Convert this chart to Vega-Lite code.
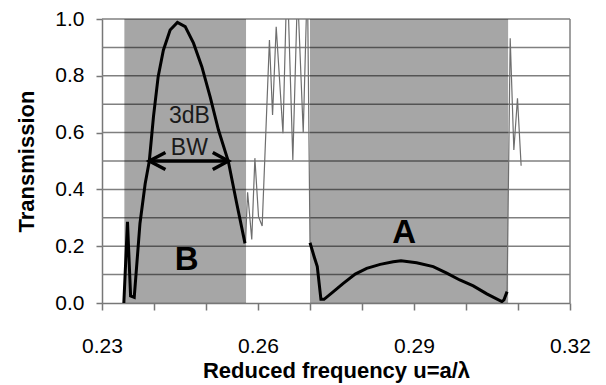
{
  "$schema": "https://vega.github.io/schema/vega-lite/v6.json",
  "width": 468,
  "height": 284,
  "autosize": {"type": "none"},
  "padding": {"left": 102, "top": 19, "right": 36, "bottom": 82},
  "background": "white",
  "config": {
    "view": {"stroke": null},
    "font": "Liberation Sans"
  },
  "datasets": {
    "gridLines": [
      {"g": "h1", "u": 0.23, "T": 0.1}, {"g": "h1", "u": 0.32, "T": 0.1},
      {"g": "h2", "u": 0.23, "T": 0.2}, {"g": "h2", "u": 0.32, "T": 0.2},
      {"g": "h3", "u": 0.23, "T": 0.3}, {"g": "h3", "u": 0.32, "T": 0.3},
      {"g": "h4", "u": 0.23, "T": 0.4}, {"g": "h4", "u": 0.32, "T": 0.4},
      {"g": "h5", "u": 0.23, "T": 0.5}, {"g": "h5", "u": 0.32, "T": 0.5},
      {"g": "h6", "u": 0.23, "T": 0.6}, {"g": "h6", "u": 0.32, "T": 0.6},
      {"g": "h7", "u": 0.23, "T": 0.7}, {"g": "h7", "u": 0.32, "T": 0.7},
      {"g": "h8", "u": 0.23, "T": 0.8}, {"g": "h8", "u": 0.32, "T": 0.8},
      {"g": "h9", "u": 0.23, "T": 0.9}, {"g": "h9", "u": 0.32, "T": 0.9},
      {"g": "h10", "u": 0.23, "T": 1.0}, {"g": "h10", "u": 0.32, "T": 1.0},
      {"g": "v32", "u": 0.32, "T": 0.0}, {"g": "v32", "u": 0.32, "T": 1.0}
    ],
    "bands": [
      {"band": "B", "u1": 0.2343, "u2": 0.2577, "T1": 0, "T2": 1},
      {"band": "A", "u1": 0.2700, "u2": 0.3081, "T1": 0, "T2": 1}
    ],
    "curves": [
      {"series": "B", "kind": "thick", "u": 0.2342, "T": 0.0},
      {"series": "B", "kind": "thick", "u": 0.2349, "T": 0.286},
      {"series": "B", "kind": "thick", "u": 0.2355, "T": 0.025},
      {"series": "B", "kind": "thick", "u": 0.2362, "T": 0.02},
      {"series": "B", "kind": "thick", "u": 0.2373, "T": 0.28},
      {"series": "B", "kind": "thick", "u": 0.2383, "T": 0.42},
      {"series": "B", "kind": "thick", "u": 0.2391, "T": 0.50},
      {"series": "B", "kind": "thick", "u": 0.2399, "T": 0.656},
      {"series": "B", "kind": "thick", "u": 0.2408, "T": 0.797},
      {"series": "B", "kind": "thick", "u": 0.2418, "T": 0.89},
      {"series": "B", "kind": "thick", "u": 0.2431, "T": 0.961},
      {"series": "B", "kind": "thick", "u": 0.2445, "T": 0.988},
      {"series": "B", "kind": "thick", "u": 0.2460, "T": 0.973},
      {"series": "B", "kind": "thick", "u": 0.2476, "T": 0.915},
      {"series": "B", "kind": "thick", "u": 0.2492, "T": 0.832},
      {"series": "B", "kind": "thick", "u": 0.2508, "T": 0.726},
      {"series": "B", "kind": "thick", "u": 0.2524, "T": 0.609},
      {"series": "B", "kind": "thick", "u": 0.2543, "T": 0.498},
      {"series": "B", "kind": "thick", "u": 0.2559, "T": 0.351},
      {"series": "B", "kind": "thick", "u": 0.2575, "T": 0.21},
      {"series": "mid", "kind": "thin", "u": 0.2576, "T": 0.216},
      {"series": "mid", "kind": "thin", "u": 0.2580, "T": 0.39},
      {"series": "mid", "kind": "thin", "u": 0.2588, "T": 0.224},
      {"series": "mid", "kind": "thin", "u": 0.2594, "T": 0.51},
      {"series": "mid", "kind": "thin", "u": 0.2601, "T": 0.304},
      {"series": "mid", "kind": "thin", "u": 0.2608, "T": 0.271},
      {"series": "mid", "kind": "thin", "u": 0.2622, "T": 0.926},
      {"series": "mid", "kind": "thin", "u": 0.2628, "T": 0.662},
      {"series": "mid", "kind": "thin", "u": 0.2635, "T": 0.973},
      {"series": "mid", "kind": "thin", "u": 0.2648, "T": 0.598},
      {"series": "mid", "kind": "thin", "u": 0.2656, "T": 1.17},
      {"series": "mid", "kind": "thin", "u": 0.2667, "T": 0.504},
      {"series": "mid", "kind": "thin", "u": 0.2676, "T": 1.1},
      {"series": "mid", "kind": "thin", "u": 0.2687, "T": 0.60},
      {"series": "mid", "kind": "thin", "u": 0.2695, "T": 1.15},
      {"series": "mid", "kind": "thin", "u": 0.2700, "T": 0.212},
      {"series": "A", "kind": "thick", "u": 0.2700, "T": 0.212},
      {"series": "A", "kind": "thick", "u": 0.2708, "T": 0.163},
      {"series": "A", "kind": "thick", "u": 0.2714, "T": 0.128},
      {"series": "A", "kind": "thick", "u": 0.2721, "T": 0.013},
      {"series": "A", "kind": "thick", "u": 0.2727, "T": 0.013},
      {"series": "A", "kind": "thick", "u": 0.2745, "T": 0.04},
      {"series": "A", "kind": "thick", "u": 0.2764, "T": 0.069},
      {"series": "A", "kind": "thick", "u": 0.2787, "T": 0.102},
      {"series": "A", "kind": "thick", "u": 0.2809, "T": 0.122},
      {"series": "A", "kind": "thick", "u": 0.2835, "T": 0.136},
      {"series": "A", "kind": "thick", "u": 0.2860, "T": 0.145},
      {"series": "A", "kind": "thick", "u": 0.2875, "T": 0.149},
      {"series": "A", "kind": "thick", "u": 0.2905, "T": 0.142},
      {"series": "A", "kind": "thick", "u": 0.2937, "T": 0.128},
      {"series": "A", "kind": "thick", "u": 0.2963, "T": 0.105},
      {"series": "A", "kind": "thick", "u": 0.2988, "T": 0.081},
      {"series": "A", "kind": "thick", "u": 0.3014, "T": 0.06},
      {"series": "A", "kind": "thick", "u": 0.3040, "T": 0.032},
      {"series": "A", "kind": "thick", "u": 0.3069, "T": 0.005},
      {"series": "A", "kind": "thick", "u": 0.3073, "T": 0.011},
      {"series": "A", "kind": "thick", "u": 0.3079, "T": 0.04},
      {"series": "tail", "kind": "thin", "u": 0.3079, "T": 0.04},
      {"series": "tail", "kind": "thin", "u": 0.3085, "T": 0.932},
      {"series": "tail", "kind": "thin", "u": 0.3092, "T": 0.539},
      {"series": "tail", "kind": "thin", "u": 0.3099, "T": 0.721},
      {"series": "tail", "kind": "thin", "u": 0.3106, "T": 0.483}
    ],
    "arrow": [
      {"part": "shaft", "k": 0, "u": 0.2394, "T": 0.5},
      {"part": "shaft", "k": 1, "u": 0.2540, "T": 0.5},
      {"part": "left", "k": 0, "u": 0.2422, "T": 0.53},
      {"part": "left", "k": 1, "u": 0.2391, "T": 0.5},
      {"part": "left", "k": 2, "u": 0.2422, "T": 0.47},
      {"part": "right", "k": 0, "u": 0.2513, "T": 0.53},
      {"part": "right", "k": 1, "u": 0.2543, "T": 0.5},
      {"part": "right", "k": 2, "u": 0.2513, "T": 0.47}
    ],
    "notes": [
      {"text": "3dB", "u": 0.2468, "T": 0.658},
      {"text": "BW", "u": 0.2468, "T": 0.545}
    ],
    "bandLabels": [
      {"text": "B", "u": 0.2463, "T": 0.151},
      {"text": "A", "u": 0.2881, "T": 0.248}
    ]
  },
  "layer": [
    {
      "data": {"name": "gridLines"},
      "mark": {"type": "line", "color": "#808080", "strokeWidth": 1.5},
      "encoding": {
        "x": {"field": "u", "type": "quantitative", "scale": {"domain": [0.23, 0.32], "nice": false, "zero": false},
          "axis": {
            "values": [0.23, 0.24, 0.25, 0.26, 0.27, 0.28, 0.29, 0.30, 0.31, 0.32],
            "labelExpr": "(round(datum.value*100) - 23) % 3 == 0 ? format(datum.value, '.2f') : ''",
            "labelFlush": false, "labelOverlap": false, "grid": false,
            "domainColor": "#777777", "domainWidth": 1.5, "tickColor": "#777777", "tickWidth": 1.5, "labelColor": "black", "titleColor": "black",
            "labelFont": "Liberation Sans", "titleFont": "Liberation Sans",
            "tickSize": 7, "labelFontSize": 21, "labelPadding": 25,
            "title": "Reduced frequency u=a/λ", "titleFontSize": 22, "titleFontWeight": "bold", "titlePadding": 4
          }
        },
        "y": {"field": "T", "type": "quantitative", "scale": {"domain": [0, 1], "nice": false},
          "axis": {
            "values": [0, 0.1, 0.2, 0.3, 0.4, 0.5, 0.6, 0.7, 0.8, 0.9, 1.0],
            "labelExpr": "round(datum.value*10) % 2 == 0 ? format(datum.value, '.1f') : ''",
            "labelOverlap": false, "labelFlush": false, "grid": false,
            "domainColor": "#777777", "domainWidth": 1.5, "tickColor": "#777777", "tickWidth": 1.5, "labelColor": "black", "titleColor": "black",
            "labelFont": "Liberation Sans", "titleFont": "Liberation Sans",
            "tickSize": 6, "labelFontSize": 21, "labelPadding": 12,
            "title": "Transmission", "titleFontSize": 22, "titleFontWeight": "bold", "titlePadding": 16
          }
        },
        "detail": {"field": "g"}
      }
    },
    {
      "data": {"name": "bands"},
      "mark": {"type": "rect", "fill": "black", "fillOpacity": 0.35},
      "encoding": {
        "x": {"field": "u1", "type": "quantitative"},
        "x2": {"field": "u2"},
        "y": {"field": "T1", "type": "quantitative"},
        "y2": {"field": "T2"}
      }
    },
    {
      "data": {"name": "curves"},
      "transform": [{"filter": "datum.kind == 'thin'"}],
      "mark": {"type": "line", "color": "#6e6e6e", "strokeWidth": 1.2, "clip": true},
      "encoding": {
        "x": {"field": "u", "type": "quantitative"},
        "y": {"field": "T", "type": "quantitative"},
        "detail": {"field": "series"}
      }
    },
    {
      "data": {"name": "curves"},
      "transform": [{"filter": "datum.kind == 'thick'"}],
      "mark": {"type": "line", "color": "black", "strokeWidth": 3, "clip": true},
      "encoding": {
        "x": {"field": "u", "type": "quantitative"},
        "y": {"field": "T", "type": "quantitative"},
        "detail": {"field": "series"}
      }
    },
    {
      "data": {"name": "arrow"},
      "mark": {"type": "line", "color": "black", "strokeWidth": 3.5, "strokeJoin": "miter", "strokeCap": "butt"},
      "encoding": {
        "x": {"field": "u", "type": "quantitative"},
        "y": {"field": "T", "type": "quantitative"},
        "detail": {"field": "part"},
        "order": {"field": "k"}
      }
    },
    {
      "data": {"name": "notes"},
      "mark": {"type": "text", "fontSize": 23, "font": "Liberation Sans", "color": "#1a1a1a", "align": "center", "baseline": "middle"},
      "encoding": {
        "x": {"field": "u", "type": "quantitative"},
        "y": {"field": "T", "type": "quantitative"},
        "text": {"field": "text"}
      }
    },
    {
      "data": {"name": "bandLabels"},
      "mark": {"type": "text", "fontSize": 33, "fontWeight": "bold", "font": "Liberation Sans", "color": "black", "align": "center", "baseline": "middle"},
      "encoding": {
        "x": {"field": "u", "type": "quantitative"},
        "y": {"field": "T", "type": "quantitative"},
        "text": {"field": "text"}
      }
    }
  ]
}
